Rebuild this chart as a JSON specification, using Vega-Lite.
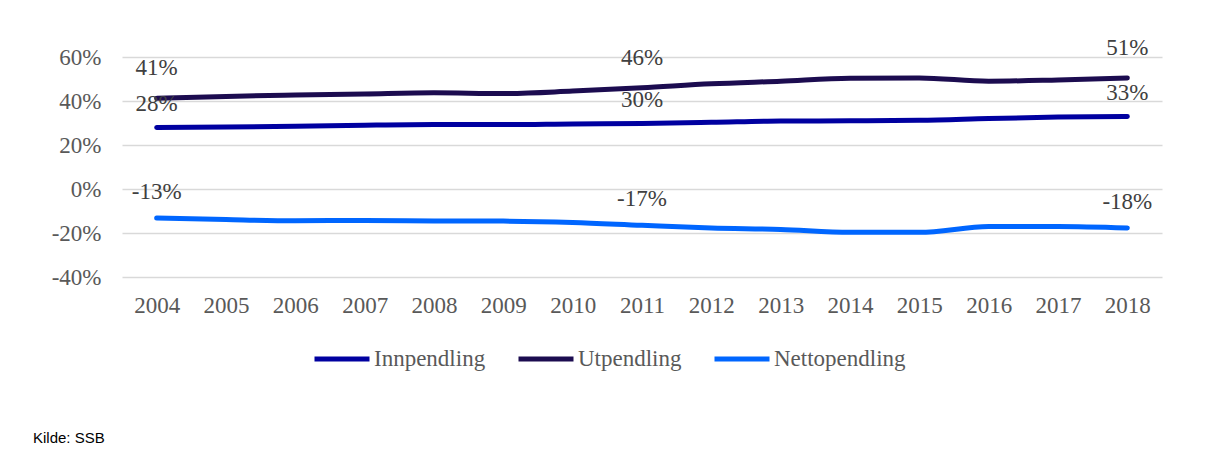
{
  "$schema": "https://vega.github.io/schema/vega-lite/v6.json",
  "width": 1040,
  "height": 220,
  "autosize": {"type": "none"},
  "padding": {"left": 122, "top": 57, "right": 54, "bottom": 176},
  "background": "white",
  "title": {"text": "Kilde: SSB", "orient": "bottom", "anchor": "start", "frame": "group", "dx": -89, "offset": 60, "font": "Liberation Sans Narrow, Liberation Sans", "fontSize": 15, "fontWeight": "normal", "color": "#000000"},
  "config": {
    "view": {"stroke": null},
    "font": "Liberation Serif",
    "locale": {"number": {"decimal": ".", "thousands": ",", "grouping": [3], "currency": ["$", ""], "minus": "-"}},
    "axis": {"labelFont": "Liberation Serif", "labelFontSize": 23, "labelColor": "#595959", "gridColor": "#d9d9d9", "gridWidth": 1.5, "ticks": false, "domain": false, "title": null}
  },
  "data": {"values": [
    {"year": "2004", "series": "Innpendling", "v": 0.280},
    {"year": "2005", "series": "Innpendling", "v": 0.282},
    {"year": "2006", "series": "Innpendling", "v": 0.285},
    {"year": "2007", "series": "Innpendling", "v": 0.290},
    {"year": "2008", "series": "Innpendling", "v": 0.293},
    {"year": "2009", "series": "Innpendling", "v": 0.293},
    {"year": "2010", "series": "Innpendling", "v": 0.296},
    {"year": "2011", "series": "Innpendling", "v": 0.298},
    {"year": "2012", "series": "Innpendling", "v": 0.303},
    {"year": "2013", "series": "Innpendling", "v": 0.309},
    {"year": "2014", "series": "Innpendling", "v": 0.310},
    {"year": "2015", "series": "Innpendling", "v": 0.312},
    {"year": "2016", "series": "Innpendling", "v": 0.320},
    {"year": "2017", "series": "Innpendling", "v": 0.327},
    {"year": "2018", "series": "Innpendling", "v": 0.330},
    {"year": "2004", "series": "Utpendling", "v": 0.412},
    {"year": "2005", "series": "Utpendling", "v": 0.421},
    {"year": "2006", "series": "Utpendling", "v": 0.427},
    {"year": "2007", "series": "Utpendling", "v": 0.432},
    {"year": "2008", "series": "Utpendling", "v": 0.437},
    {"year": "2009", "series": "Utpendling", "v": 0.434},
    {"year": "2010", "series": "Utpendling", "v": 0.445},
    {"year": "2011", "series": "Utpendling", "v": 0.460},
    {"year": "2012", "series": "Utpendling", "v": 0.478},
    {"year": "2013", "series": "Utpendling", "v": 0.490},
    {"year": "2014", "series": "Utpendling", "v": 0.503},
    {"year": "2015", "series": "Utpendling", "v": 0.505},
    {"year": "2016", "series": "Utpendling", "v": 0.490},
    {"year": "2017", "series": "Utpendling", "v": 0.496},
    {"year": "2018", "series": "Utpendling", "v": 0.505},
    {"year": "2004", "series": "Nettopendling", "v": -0.132},
    {"year": "2005", "series": "Nettopendling", "v": -0.139},
    {"year": "2006", "series": "Nettopendling", "v": -0.144},
    {"year": "2007", "series": "Nettopendling", "v": -0.143},
    {"year": "2008", "series": "Nettopendling", "v": -0.145},
    {"year": "2009", "series": "Nettopendling", "v": -0.146},
    {"year": "2010", "series": "Nettopendling", "v": -0.152},
    {"year": "2011", "series": "Nettopendling", "v": -0.165},
    {"year": "2012", "series": "Nettopendling", "v": -0.177},
    {"year": "2013", "series": "Nettopendling", "v": -0.184},
    {"year": "2014", "series": "Nettopendling", "v": -0.197},
    {"year": "2015", "series": "Nettopendling", "v": -0.197},
    {"year": "2016", "series": "Nettopendling", "v": -0.171},
    {"year": "2017", "series": "Nettopendling", "v": -0.170},
    {"year": "2018", "series": "Nettopendling", "v": -0.177}
  ]},
  "encoding": {
    "x": {"field": "year", "type": "ordinal", "scale": {"type": "point", "padding": 0.5}, "axis": {"labelAngle": 0, "labelPadding": 17, "grid": false}},
    "y": {"field": "v", "type": "quantitative", "scale": {"domain": [-0.4, 0.6], "nice": false}, "axis": {"format": ".0%", "values": [-0.4, -0.2, 0, 0.2, 0.4, 0.6], "labelPadding": 21}}
  },
  "layer": [
    {
      "mark": {"type": "line", "strokeWidth": 5, "strokeCap": "round", "interpolate": "monotone"},
      "encoding": {
        "color": {"field": "series", "type": "nominal",
          "scale": {"domain": ["Innpendling", "Utpendling", "Nettopendling"], "range": ["#0000a0", "#1c0c50", "#0066ff"]},
          "legend": {"title": null, "orient": "none", "legendX": 190, "legendY": 272, "direction": "horizontal", "symbolType": "stroke", "symbolSize": 3025, "symbolStrokeWidth": 5, "labelFont": "Liberation Serif", "labelFontSize": 23, "labelColor": "#595959", "columnPadding": 22, "labelOffset": 2}
        }
      }
    },
    {
      "transform": [{"filter": "datum.series == 'Utpendling' && (datum.year == '2004' || datum.year == '2011' || datum.year == '2018')"}],
      "mark": {"type": "text", "dy": -30, "fontSize": 23, "color": "#404040"},
      "encoding": {"text": {"field": "v", "type": "quantitative", "format": ".0%"}}
    },
    {
      "transform": [{"filter": "datum.series == 'Innpendling' && (datum.year == '2004' || datum.year == '2011' || datum.year == '2018')"}],
      "mark": {"type": "text", "dy": -23, "fontSize": 23, "color": "#404040"},
      "encoding": {"text": {"field": "v", "type": "quantitative", "format": ".0%"}}
    },
    {
      "transform": [{"filter": "datum.series == 'Nettopendling' && (datum.year == '2004' || datum.year == '2011' || datum.year == '2018')"}],
      "mark": {"type": "text", "dy": -26, "fontSize": 23, "color": "#404040"},
      "encoding": {"text": {"field": "v", "type": "quantitative", "format": ".0%"}}
    }
  ]
}
